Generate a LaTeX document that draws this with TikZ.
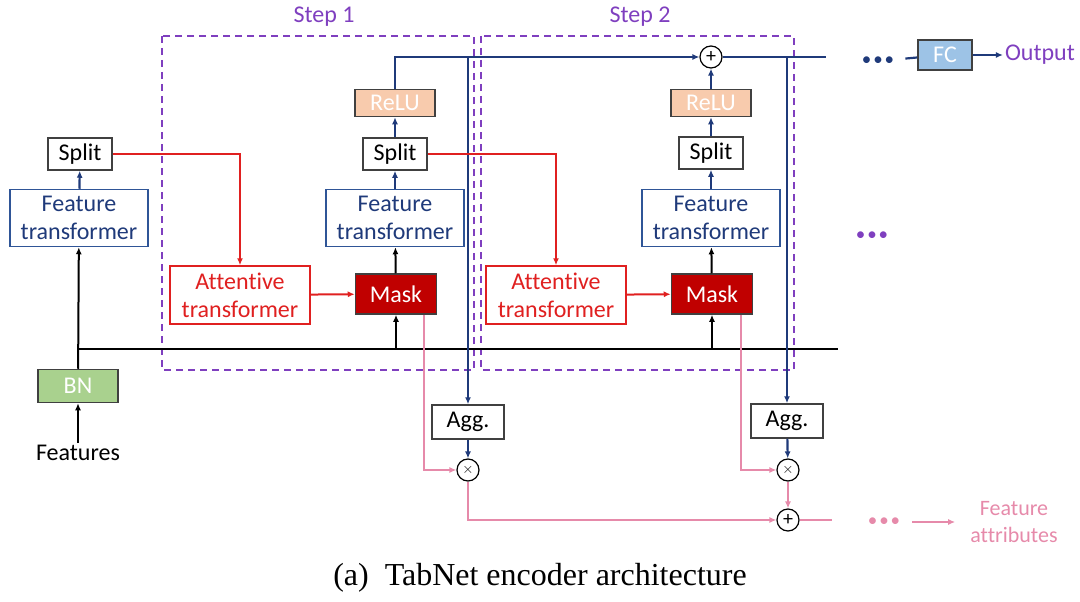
\documentclass[tikz,border=0pt]{standalone}
\usepackage{fontspec}
\setmainfont{Carlito}[Ligatures=NoCommon]
\newfontfamily\capfont{Liberation Serif}
\usetikzlibrary{arrows.meta}

\definecolor{navy}{HTML}{1F3A7A}
\definecolor{ftblue}{HTML}{2F5597}
\definecolor{attred}{HTML}{E02020}
\definecolor{maskred}{HTML}{C00000}
\definecolor{pinkline}{HTML}{E68AAA}
\definecolor{steppurple}{HTML}{7F3FBF}
\definecolor{relufill}{HTML}{F8CBAD}
\definecolor{bnfill}{HTML}{A9D18E}
\definecolor{fcfill}{HTML}{9DC3E6}
\definecolor{boxgray}{HTML}{404040}

\newcommand{\dfont}{\fontsize{24}{28}\selectfont}
\newcommand{\threedots}{\fontsize{19}{19}\selectfont\textbullet\kern2pt\textbullet\kern2pt\textbullet}

\begin{document}
\begin{tikzpicture}[x=1pt,y=-1pt,
      every node/.style={font=\dfont, inner sep=2pt},
      plainbox/.style={draw=boxgray, line width=1.5pt, fill=white},
      splitbox/.style={plainbox, minimum width=64pt, minimum height=32pt},
      aggbox/.style={plainbox, minimum width=72pt, minimum height=34pt},
      ftbox/.style={draw=ftblue, line width=1.5pt, fill=white, text=navy, align=center,
                    minimum width=138pt, minimum height=57pt},
      attbox/.style={draw=attred, line width=1.5pt, fill=white, text=attred, align=center,
                    minimum width=140pt, minimum height=58pt},
      maskbox/.style={draw=boxgray, line width=1.5pt, fill=maskred, text=white,
                    minimum width=81pt, minimum height=40pt},
      relubox/.style={draw=boxgray, line width=1.5pt, fill=relufill, text=white,
                    minimum width=80pt, minimum height=27pt},
      bnbox/.style={draw=boxgray, line width=1.5pt, fill=bnfill, text=white,
                    minimum width=80pt, minimum height=33pt},
      fcbox/.style={draw=boxgray, line width=1.5pt, fill=fcfill, text=white,
                    minimum width=54pt, minimum height=30pt},
      opnode/.style={circle, draw=black, line width=1.2pt, fill=white, minimum size=22pt,
                    inner sep=0pt, font=\fontsize{15}{15}\selectfont},
      stepbox/.style={draw=steppurple, line width=1.8pt, dash pattern=on 7pt off 5pt},
      tip/.style={-{Latex[length=7pt,width=6pt]}},
      navyline/.style={draw=navy, line width=2.2pt},
      blkline/.style={draw=black, line width=2pt},
      redline/.style={draw=attred, line width=2pt},
      pinkwire/.style={draw=pinkline, line width=2pt}]

      % step frames
      \draw[stepbox] (162,36) rectangle (474,370);
      \draw[stepbox] (481,36) rectangle (794,370);
      \node[text=steppurple] (step1) at (324,17) {Step 1};
      \node[text=steppurple] (step2) at (640,17) {Step 2};

      % input side
      \node (feat) at (78,453) {Features};
      \node[bnbox] (bn) at (78,386) {BN};
      \node[ftbox] (ft0) at (79,218) {Feature\\transformer};
      \node[splitbox] (split0) at (80,154) {Split};
      \coordinate (busL) at (78,349);
      \coordinate (busR) at (838,349);

      % step 1
      \node[attbox] (att1) at (240,295) {Attentive\\transformer};
      \node[maskbox] (mask1) at (396,294) {Mask};
      \node[ftbox] (ft1) at (395,218) {Feature\\transformer};
      \node[splitbox] (split1) at (395,154) {Split};
      \node[relubox] (relu1) at (395,103) {ReLU};
      \node[aggbox] (agg1) at (468,422) {Agg.};
      \node[opnode] (mul1) at (468,470) {$\times$};

      % step 2
      \node[attbox] (att2) at (556,295) {Attentive\\transformer};
      \node[maskbox] (mask2) at (712,294) {Mask};
      \node[ftbox] (ft2) at (711,218) {Feature\\transformer};
      \node[splitbox] (split2) at (711,153) {Split};
      \node[relubox] (relu2) at (711,103) {ReLU};
      \node[opnode, font=\fontsize{20}{20}\selectfont] (plus) at (711,57) {+};
      \node[aggbox] (agg2) at (787,421) {Agg.};
      \node[opnode] (mul2) at (788,470) {$\times$};
      \node[opnode, font=\fontsize{20}{20}\selectfont] (sum) at (788,520) {+};

      % outputs
      \coordinate (topR) at (826,57);
      \node[text=navy] (ndots) at (878,61) {\threedots};
      \node[fcbox] (fc) at (945,55) {FC};
      \node[text=steppurple] (out) at (1040,55) {Output};
      \node[text=steppurple] (vdots) at (872,236) {\threedots};
      \coordinate (pinkR) at (832,520);
      \node[text=pinkline] (pdots) at (884,522) {\threedots};
      \node[text=pinkline, align=center, font=\fontsize{22}{27}\selectfont] (fattr) at (1014,522) {Feature\\attributes};

      % black wires
      \draw[blkline, tip] (feat) -- (bn);
      \draw[blkline, tip] (bn) -- (ft0);
      \draw[blkline, line width=2.5pt] (busL) -- (busR);
      \draw[blkline, tip] (mask1 |- busL) -- (mask1);
      \draw[blkline, tip] (mask2 |- busL) -- (mask2);
      \draw[blkline, tip] (mask1) -- (ft1);
      \draw[blkline, tip] (mask2) -- (ft2);

      % navy wires
      \draw[navyline, tip] (ft0) -- (split0);
      \draw[navyline, tip] (ft1) -- (split1);
      \draw[navyline, tip] (split1) -- (relu1);
      \draw[navyline, tip] (ft2) -- (split2);
      \draw[navyline, tip] (split2) -- (relu2);
      \draw[navyline, tip] (relu2) -- (plus);
      \draw[navyline, tip] (relu1.north) |- (plus.west);
      \draw[navyline] (plus.east) -- (topR);
      \draw[navyline, tip] (agg1 |- plus) -- (agg1);
      \draw[navyline, tip] (agg2 |- plus) -- (agg2);
      \draw[navyline, tip] (agg1) -- (mul1);
      \draw[navyline, tip] (agg2) -- (mul2);
      \draw[navyline, shorten <=9pt] (ndots) -- (fc);
      \draw[navyline, tip] (fc) -- (out);

      % red wires
      \draw[redline, tip] (split0.east) -| (att1.north);
      \draw[redline, tip] (split1.east) -| (att2.north);
      \draw[redline, tip] (att1) -- (mask1);
      \draw[redline, tip] (att2) -- (mask2);

      % pink wires
      \draw[pinkwire, tip] ([xshift=-13pt]mask1.south east) |- (mul1.west);
      \draw[pinkwire, tip] ([xshift=-12pt]mask2.south east) |- (mul2.west);
      \draw[pinkwire, tip] (mul1.south) |- (sum.west);
      \draw[pinkwire, tip] (mul2) -- (sum);
      \draw[pinkwire] (sum.east) -- (pinkR);
      \draw[pinkwire, tip, shorten <=10pt, shorten >=13pt] (pdots) -- (fattr);

      % caption
      \node[font=\capfont\fontsize{32}{36}\selectfont] (cap) at (540,578) {(a)\ \ TabNet encoder architecture};

      \useasboundingbox (0,0) rectangle (1080,602);
\end{tikzpicture}
\end{document}
